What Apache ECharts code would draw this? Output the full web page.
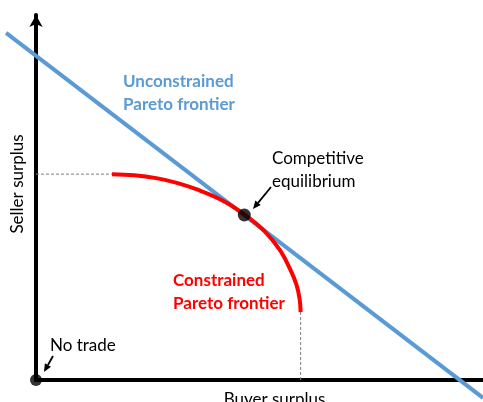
<!DOCTYPE html>
<html>
<head>
<meta charset="utf-8">
<script src="https://cdn.jsdelivr.net/npm/echarts@6/dist/echarts.min.js"></script>
<style>
  html, body { margin: 0; padding: 0; background: #fff; }
  #chart { width: 483px; height: 402px; }
</style>
</head>
<body>
<div id="chart"></div>
<script>
// values, in surplus units (0..100 on each axis)
const unconstrainedFrontier = [[-6.7, 95.1], [100, -4.9]]
const constrainedFrontier = [
  [17.0, 56.4], [22.0, 56.1], [26.9, 55.3], [31.5, 54.0], [36.0, 52.2],
  [41.7, 49.2], [46.6, 45.4], [51.1, 40.8], [54.5, 35.7], [56.8, 30.5],
  [58.3, 26.0], [59.0, 22.0], [59.2, 18.6],
]
const equilibrium = [[46.6, 45.2]]
const noTrade = [[0, 0]]
const sellerGuide = [[0, 56.4], [17.0, 56.4]]
const buyerGuide = [[59.2, 0], [59.2, 18.6]]

const BLUE = '#5B9BD5'
const RED = '#FF0000'
const FONT = 'Lato, "Liberation Sans", sans-serif'

// plot area of the visible axes
const W = 483, H = 402
const LEFT = 36, TOP = 15, BOTTOM = 22
// a second, hidden grid over the whole canvas with the same scale,
// so the blue frontier can run past the axes like in the reference
const fullXMin = -LEFT * 100 / (W - LEFT)
const fullYMin = 100 - 100 * (H - TOP) / (H - TOP - BOTTOM)

function arrow(x1, y1, x2, y2) {
  const a = Math.atan2(y2 - y1, x2 - x1)
  const len = 8, half = 3.5
  const bx = x2 - len * Math.cos(a)
  const by = y2 - len * Math.sin(a)
  return [
    { type: 'line', shape: { x1, y1, x2: bx, y2: by }, style: { stroke: '#000', lineWidth: 1.8 } },
    {
      type: 'polygon',
      shape: {
        points: [
          [x2, y2],
          [bx - half * Math.sin(a), by + half * Math.cos(a)],
          [bx + half * Math.sin(a), by - half * Math.cos(a)],
        ],
      },
      style: { fill: '#000' },
    },
  ]
}

function label(x, y, text, color, weight) {
  return {
    type: 'text',
    x, y,
    style: {
      text,
      fill: color,
      font: weight + ' 17px ' + FONT,
      lineHeight: 23,
      verticalAlign: 'top',
    },
  }
}

const hiddenAxis = {
  axisLine: { show: false },
  axisTick: { show: false },
  axisLabel: { show: false },
  splitLine: { show: false },
}

const chart = echarts.init(document.getElementById('chart'))

const option = {
  animation: false,
  grid: [
    { left: LEFT, right: 0, top: TOP, bottom: BOTTOM, outerBoundsMode: 'none' },
    { left: 0, right: 0, top: TOP, bottom: 0, outerBoundsMode: 'none' },
  ],
  xAxis: [
    {
      type: 'value',
      min: 0,
      max: 100,
      name: 'Buyer surplus',
      nameLocation: 'middle',
      nameGap: 11,
      nameTextStyle: { color: '#000', fontSize: 17, fontFamily: FONT, padding: [0, 0, 0, 30] },
      axisLine: { lineStyle: { color: '#000', width: 4 } },
      axisTick: { show: false },
      axisLabel: { show: false },
      splitLine: { show: false },
    },
    { type: 'value', gridIndex: 1, min: fullXMin, max: 100, ...hiddenAxis },
  ],
  yAxis: [
    {
      type: 'value',
      min: 0,
      max: 100,
      name: 'Seller surplus',
      nameLocation: 'middle',
      nameGap: 10,
      nameTextStyle: { color: '#000', fontSize: 17, fontFamily: FONT, padding: [0, 0, 0, 27] },
      axisLine: {
        lineStyle: { color: '#000', width: 4 },
        symbol: ['none', 'arrow'],
        symbolSize: [10, 12],
      },
      axisTick: { show: false },
      axisLabel: { show: false },
      splitLine: { show: false },
    },
    { type: 'value', gridIndex: 1, min: fullYMin, max: 100, ...hiddenAxis },
  ],
  series: [
    {
      type: 'line',
      data: sellerGuide,
      symbol: 'none',
      lineStyle: { color: '#7f7f7f', width: 1, type: [3, 2] },
    },
    {
      type: 'line',
      data: buyerGuide,
      symbol: 'none',
      lineStyle: { color: '#7f7f7f', width: 1, type: [3, 2] },
    },
    {
      type: 'line',
      xAxisIndex: 1,
      yAxisIndex: 1,
      data: unconstrainedFrontier,
      symbol: 'none',
      lineStyle: { color: BLUE, width: 4 },
    },
    {
      type: 'line',
      data: constrainedFrontier,
      symbol: 'none',
      smooth: 0.4,
      lineStyle: { color: RED, width: 4 },
      z: 3,
    },
    {
      type: 'scatter',
      data: equilibrium,
      symbolSize: 13,
      itemStyle: { color: '#000' },
      z: 5,
    },
    {
      type: 'scatter',
      data: noTrade,
      symbolSize: 12,
      clip: false,
      itemStyle: { color: '#000' },
      z: 5,
    },
  ],
  graphic: [
    label(123, 70, 'Unconstrained\nPareto frontier', BLUE, 'bold'),
    label(272, 147, 'Competitive\nequilibrium', '#000', 'normal'),
    label(173, 269, 'Constrained\nPareto frontier', RED, 'bold'),
    label(50, 334, 'No trade', '#000', 'normal'),
    ...arrow(271, 187, 253, 209),
    ...arrow(53, 356, 44, 372),
  ],
}

chart.setOption(option)
</script>
</body>
</html>
